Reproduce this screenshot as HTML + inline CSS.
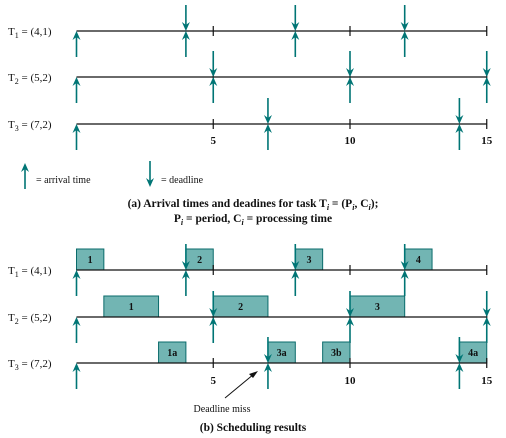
<!DOCTYPE html>
<html><head><meta charset="utf-8"><style>
body{margin:0;background:#fff;width:506px;height:438px;overflow:hidden}
svg{display:block}
text{font-family:"Liberation Serif",serif;fill:#111}
</style></head><body>
<svg id="c" width="506" height="438" xmlns="http://www.w3.org/2000/svg"></svg>
<script>
const periods=[4,5,7];
const costs=[1,2,2];
const taskNames=['T1','T2','T3'];
const ticks=[5,10,15];
const horizon=15;
const jobsT1=[[0,1,'1'],[4,5,'2'],[8,9,'3'],[12,13,'4']];
const jobsT2=[[1,3,'1'],[5,7,'2'],[10,12,'3']];
const jobsT3=[[3,4,'1a'],[7,8,'3a'],[9,10,'3b'],[14,15,'4a']];
const jobs=[jobsT1,jobsT2,jobsT3];

const svg=document.getElementById('c');
const NS='http://www.w3.org/2000/svg';
const X0=76.5,SC=27.35;
const xs=t=>X0+t*SC;
const TEAL='#007575';
function el(tag,attrs,parent){const e=document.createElementNS(NS,tag);for(const k in attrs)e.setAttribute(k,attrs[k]);(parent||svg).appendChild(e);return e;}
function txt(x,y,s,opt,parent){const t=el('text',Object.assign({x:x,y:y},opt||{}),parent);t.innerHTML=s;return t;}
function upArrow(x,y,g){el('line',{x1:x,y1:y+4,x2:x,y2:y+26,stroke:TEAL,'stroke-width':1.6},g);el('path',{d:`M${x-4},${y+9} L${x},${y} L${x+4},${y+9} L${x},${y+6}Z`,fill:TEAL},g);}
function downArrow(x,y,g){el('line',{x1:x,y1:y-26,x2:x,y2:y-4,stroke:TEAL,'stroke-width':1.6},g);el('path',{d:`M${x-4},${y-9} L${x},${y} L${x+4},${y-9} L${x},${y-6}Z`,fill:TEAL},g);}
function label(y,i,g){const t=txt(8,y+4,'',{'font-size':11},g);t.innerHTML=`T<tspan font-size="8" dy="3">${i+1}</tspan><tspan dy="-3"> = (${periods[i]},${costs[i]})</tspan>`;}

function panel(ys,tickY,withJobs,name){
  const g=el('g',{});
  
  
  ys.forEach((y,i)=>{
    const row=el('g',{},g);
    
    
    label(y,i,row);
    if(withJobs){
      jobs[i].forEach(j=>{
        const r=el('rect',{x:xs(j[0]),y:y-21,width:xs(j[1])-xs(j[0]),height:21,fill:'#72b5b3',stroke:'#0a6b6b','stroke-width':1},row);
        
        
        txt((xs(j[0])+xs(j[1]))/2,y-7,j[2],{'font-size':10,'font-weight':'bold','text-anchor':'middle'},row);
      });
    }
    el('line',{x1:xs(0),y1:y,x2:xs(horizon),y2:y,stroke:'#111','stroke-width':1.2},row);
    ticks.forEach(t=>el('line',{x1:xs(t),y1:y-5,x2:xs(t),y2:y+5,stroke:'#111','stroke-width':1.2},row));
    for(let k=0;k*periods[i]<=horizon;k++){
      const t=k*periods[i];
      upArrow(xs(t),y,row);
      if(k>0)downArrow(xs(t),y,row);
    }
  });
  ticks.forEach(t=>txt(xs(t),tickY,String(t),{'font-size':11,'font-weight':'bold','text-anchor':'middle'},g));
}
panel([31,77,124],144,false,'arrival-deadline-panel');
panel([270,317,363],384,true,'scheduling-panel');

// legend
const lg=el('g',{});
upArrow(25,163,lg);
txt(36,183,'= arrival time',{'font-size':10},lg);
downArrow(150,187,lg);
txt(161,183,'= deadline',{'font-size':10},lg);
// captions
const c1=txt(253,207,'',{'font-size':11.5,'font-weight':'bold','text-anchor':'middle'});

c1.innerHTML='(a) Arrival times and deadines for task T<tspan font-size="8" dy="3" font-style="italic">i</tspan><tspan dy="-3"> = (P</tspan><tspan font-size="8" dy="3" font-style="italic">i</tspan><tspan dy="-3">, C</tspan><tspan font-size="8" dy="3" font-style="italic">i</tspan><tspan dy="-3">);</tspan>';
const c2=txt(253,222,'',{'font-size':11.5,'font-weight':'bold','text-anchor':'middle'});

c2.innerHTML='P<tspan font-size="8" dy="3" font-style="italic">i</tspan><tspan dy="-3"> = period, C</tspan><tspan font-size="8" dy="3" font-style="italic">i</tspan><tspan dy="-3"> = processing time</tspan>';
// deadline miss annotation
const ann=el('g',{});
el('line',{x1:225,y1:398,x2:254,y2:374,stroke:'#111','stroke-width':1},ann);
el('path',{d:'M258,371 L249,374 L253,378Z',fill:'#111'},ann);
txt(222,412,'Deadline miss',{'font-size':10,'text-anchor':'middle'},ann);
const c3=txt(253,431,'(b) Scheduling results',{'font-size':11.5,'font-weight':'bold','text-anchor':'middle'});

</script>
</body></html>
